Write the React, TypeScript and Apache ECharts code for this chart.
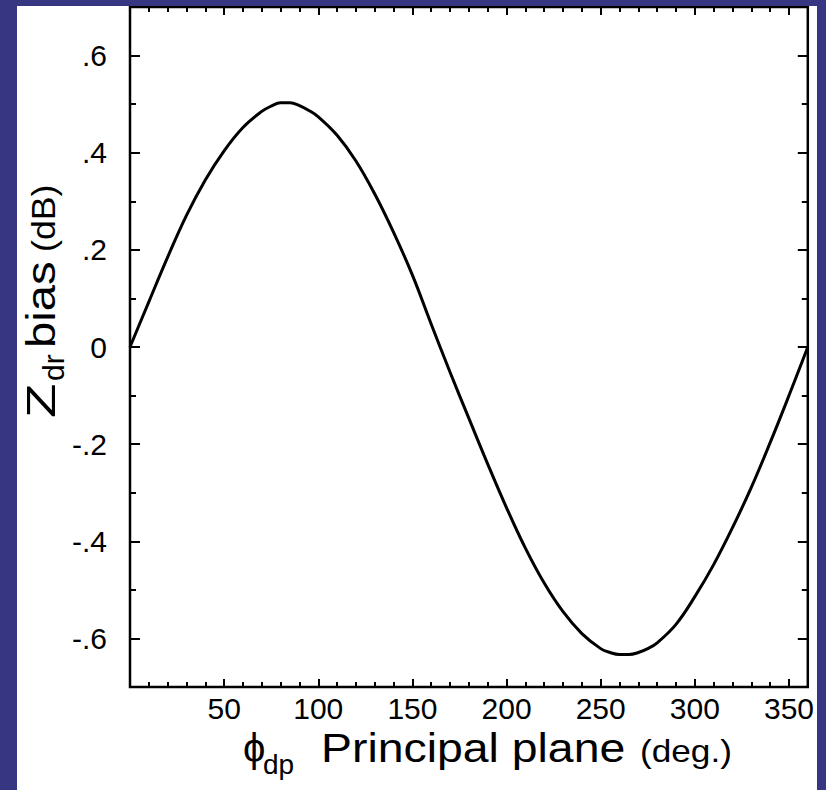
import React, { useEffect, useRef } from "react";
import * as echarts from "echarts";

// Differential phase in the principal plane (deg.)
const phiDeg = [
  0, 10, 20, 30, 40, 50, 60, 70, 75, 80, 85, 90, 95, 100, 110, 120, 130, 140, 150, 160, 170, 180,
  190, 200, 210, 220, 230, 240, 250, 255, 260, 265, 270, 275, 280, 290, 300, 310, 320, 330, 340, 350, 360,
];
// Zdr bias (dB)
const zdrBias = [
  0, 0.093, 0.185, 0.271, 0.344, 0.404, 0.452, 0.485, 0.496, 0.503, 0.503, 0.497, 0.487, 0.474,
  0.436, 0.383, 0.315, 0.236, 0.148, 0.047, -0.052, -0.147, -0.241, -0.331, -0.414, -0.486,
  -0.545, -0.59, -0.621, -0.629, -0.633, -0.633, -0.629, -0.621, -0.609, -0.571, -0.514,
  -0.448, -0.372, -0.289, -0.197, -0.1, 0,
];

const xMajor = [50, 100, 150, 200, 250, 300, 350];
const xMinor = [10, 20, 30, 40, 60, 70, 80, 90, 110, 120, 130, 140, 160, 170, 180, 190, 210, 220, 230, 240, 260, 270, 280, 290, 310, 320, 330, 340];
const yMajor = [-0.6, -0.4, -0.2, 0, 0.2, 0.4, 0.6];
const yMinor = [-0.5, -0.3, -0.1, 0.1, 0.3, 0.5];

const FONT = "Liberation Sans";

export default function App() {
  const ref = useRef<HTMLDivElement>(null);
  useEffect(() => {
    if (!ref.current) return;
    const chart = echarts.init(ref.current, null, { renderer: "svg" });
    const tick = (len: number) => ({ show: true, inside: true, length: len, lineStyle: { color: "#000", width: 2 } });
    const xBase = { type: "value", min: 0, max: 360, axisLine: { show: false, onZero: false }, splitLine: { show: false } };
    const yBase = { type: "value", min: -0.7, max: 0.7, axisLine: { show: false, onZero: false }, splitLine: { show: false } };
    const yFmt = (v: number) => {
      const n = Math.round(v * 10);
      if (n === 0) return "0";
      return (n < 0 ? "-" : "") + "." + Math.abs(n);
    };
    const data = phiDeg.map((p, i) => [p, zdrBias[i]]);
    const txt = (text: string, x: number, baseline: number, fs: number, sx = 1, family = FONT) => ({
      type: "text",
      x,
      y: baseline - 0.35 * fs,
      z: 100,
      scaleX: sx,
      style: { text, fontSize: fs, fontFamily: family, fill: "#000", align: "left", verticalAlign: "middle" },
    });
    chart.setOption({
      animation: false,
      backgroundColor: "#ffffff",
      grid: { left: 113, top: 1, width: 680, height: 680, show: true, borderColor: "#000", borderWidth: 2.5, backgroundColor: "transparent" },
      xAxis: [
        { ...xBase, position: "bottom", axisTick: { ...tick(8), customValues: xMajor },
          axisLabel: { show: true, customValues: xMajor, margin: 6, fontSize: 30, fontFamily: FONT, color: "#000" } },
        { ...xBase, position: "bottom", axisTick: { ...tick(5), customValues: xMinor }, axisLabel: { show: false } },
        { ...xBase, position: "top", axisTick: { ...tick(8), customValues: xMajor }, axisLabel: { show: false } },
        { ...xBase, position: "top", axisTick: { ...tick(5), customValues: xMinor }, axisLabel: { show: false } },
      ],
      yAxis: [
        { ...yBase, position: "left", axisTick: { ...tick(10), customValues: yMajor },
          axisLabel: { show: true, customValues: yMajor, formatter: yFmt, margin: 23, fontSize: 30, fontFamily: FONT, color: "#000" } },
        { ...yBase, position: "left", axisTick: { ...tick(6), customValues: yMinor }, axisLabel: { show: false } },
        { ...yBase, position: "right", axisTick: { ...tick(10), customValues: yMajor }, axisLabel: { show: false } },
        { ...yBase, position: "right", axisTick: { ...tick(6), customValues: yMinor }, axisLabel: { show: false } },
      ],
      series: [
        {
          type: "line",
          xAxisIndex: 0,
          yAxisIndex: 0,
          data,
          smooth: 0.4,
          showSymbol: false,
          lineStyle: { color: "#000", width: 3 },
        },
      ],
      graphic: [
        // x-axis title
        txt("\u03D5", 226, 756, 40, 1, FONT + ", DejaVu Sans"),
        txt("dp", 246, 768, 28),
        txt("Principal plane", 304, 756, 40, 1.16),
        txt("(deg.)", 623, 756, 32, 1.1),
        // y-axis title (rotated)
        {
          type: "group",
          x: 38,
          y: 412,
          rotation: Math.PI / 2,
          z: 100,
          children: [
            txt("Z", 0, 0, 41, 1.38),
            txt("dr", 37, 9, 30),
            txt("bias", 70, 0, 41, 1.15),
            txt("(dB)", 166, 0, 34, 1.05),
          ],
        },
      ],
    });
    return () => chart.dispose();
  }, []);
  return (
    <div style={{ position: "fixed", left: 0, top: 0, width: 826, height: 790, background: "#363683", overflow: "hidden" }}>
      <div ref={ref} style={{ position: "absolute", left: 17, top: 6, width: 800, height: 784, background: "#fff" }} />
    </div>
  );
}
